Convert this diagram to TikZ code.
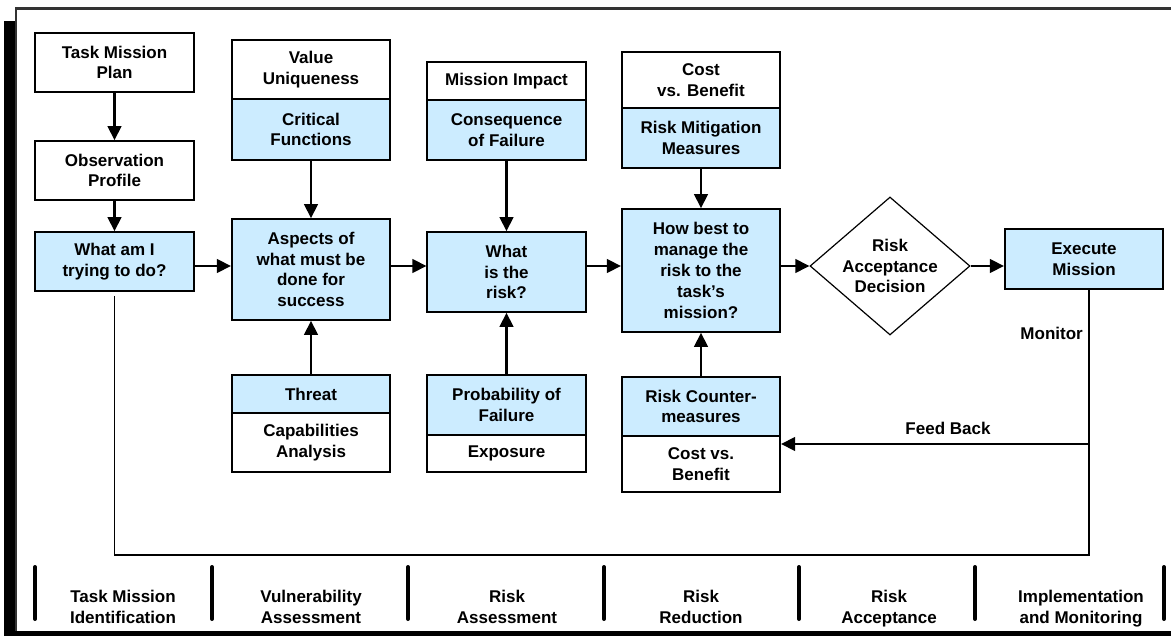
\documentclass[tikz,border=0pt]{standalone}
\usepackage{fontspec}
\setmainfont{Liberation Sans}
\usetikzlibrary{shapes.geometric,arrows.meta}
\definecolor{boxblue}{HTML}{CCECFF}
\definecolor{framegray}{HTML}{333333}
\begin{document}
\begin{tikzpicture}[x=1pt,y=-1pt,
  font=\fontsize{17}{20.8}\selectfont\bfseries,
  box/.style={draw=black, line width=1.6pt, align=center, inner sep=0pt, minimum width=158.5pt},
  bluebox/.style={box, fill=boxblue},
  whitebox/.style={box, fill=white},
  arr/.style={line width=2.6pt, -{Triangle[length=14pt,width=13.5pt]}},
  loopline/.style={line width=1.6pt},
  sepbar/.style={line width=4pt, line cap=round},
  lbl/.style={align=center, inner sep=0pt},
  phase/.style={lbl, text depth=0pt}
]
\useasboundingbox (0,0) rectangle (1171,636);
% frame with shadow
\fill[black] (4,21) rectangle (1171,636);
\fill[white] (16,8.5) rectangle (1171,630.5);
\draw[framegray, line width=2.8pt] (1171,8.5) -- (16,8.5) -- (16,630.5);

% top row
\node[whitebox, minimum height=59pt] (tmp) at (114.5,62.5) {Task Mission\\Plan};
\node[whitebox, minimum height=59pt] (op) at (114.5,170.5) {Observation\\Profile};
\node[bluebox, minimum height=59pt] (what) at (114.5,261.5) {What am I\\trying to do?};

\node[whitebox, minimum height=59pt] (vu) at (311,69.5) {Value\\Uniqueness};
\node[bluebox, minimum height=61pt] (cf) at (311,129.5) {Critical\\Functions};
\node[bluebox, minimum height=101pt] (asp) at (311,269.5) {Aspects of\\what must be\\done for\\success};

\node[whitebox, minimum height=38pt] (mi) at (506.5,81) {Mission Impact};
\node[bluebox, minimum height=60pt] (cof) at (506.5,130) {Consequence\\of Failure};
\node[bluebox, minimum height=80pt] (risk) at (506.5,272) {What\\is the\\risk?};

\node[whitebox, minimum height=56pt] (cvb) at (701,80) {Cost\\vs. Benefit};
\node[bluebox, minimum height=60pt] (rmm) at (701,138) {Risk Mitigation\\Measures};
\node[bluebox, minimum height=123pt] (how) at (701,270.5) {How best to\\manage the\\risk to the\\task’s\\mission?};

\node[diamond, draw=black, line width=1.2pt, fill=white, minimum width=160pt, minimum height=138pt, inner sep=0pt] (dec) at (890,266) {};
\node[lbl] (decT) at (dec) {Risk\\Acceptance\\Decision};

\node[bluebox, minimum height=60pt] (exe) at (1084,259) {Execute\\Mission};

% bottom row of boxes
\node[bluebox, minimum height=38pt] (thr) at (311,394) {Threat};
\node[whitebox, minimum height=59pt] (cap) at (311,442.5) {Capabilities\\Analysis};
\node[bluebox, minimum height=60pt] (pof) at (506.5,405) {Probability of\\Failure};
\node[whitebox, minimum height=37pt] (exp) at (506.5,453.5) {Exposure};
\node[bluebox, minimum height=59pt] (rcm) at (701,406.5) {Risk Counter-\\measures};
\node[whitebox, minimum height=56pt] (cvb2) at (701,464) {Cost vs.\\Benefit};

% vertical arrows
\draw[arr] (tmp) -- (op);
\draw[arr] (op) -- (what);
\draw[arr] (cf) -- (asp);
\draw[arr] (thr) -- (asp);
\draw[arr] (cof) -- (risk);
\draw[arr] (pof) -- (risk);
\draw[arr] (rmm) -- (how);
\draw[arr] (rcm) -- (how);

% horizontal arrows
\draw[arr] (what.east |- dec) -- (asp.west |- dec);
\draw[arr] (asp.east |- dec) -- (risk.west |- dec);
\draw[arr] (risk.east |- dec) -- (how.west |- dec);
\draw[arr] (how.east |- dec) -- (dec.west);
\draw[arr] (dec.east) -- (exe.west |- dec);

% monitoring loop
\coordinate (loopL) at (114.5,555);
\coordinate (loopR) at (1089,555);
\coordinate (fbR) at (1089,444);
\draw[loopline] ([yshift=-4pt]what.south) -- (loopL) -- (loopR) -- (exe.south -| loopR);
\draw[arr] (fbR) -- (cvb2.east |- fbR);
\node[lbl] (fbl) at (948,428) {Feed Back};
\node[lbl, anchor=east] (mon) at (1083,333) {Monitor};

% phase bar
\foreach \xx in {35,212,408,604,799,975,1164}
  \draw[sepbar] (\xx,567) -- (\xx,619);
\node[phase] (p1) at (123,607) {Task Mission\\Identification};
\node[phase] (p2) at (311,607) {Vulnerability\\Assessment};
\node[phase] (p3) at (507,607) {Risk\\Assessment};
\node[phase] (p4) at (701,607) {Risk\\Reduction};
\node[phase] (p5) at (889,607) {Risk\\Acceptance};
\node[phase] (p6) at (1081,607) {Implementation\\and Monitoring};
\end{tikzpicture}
\end{document}
